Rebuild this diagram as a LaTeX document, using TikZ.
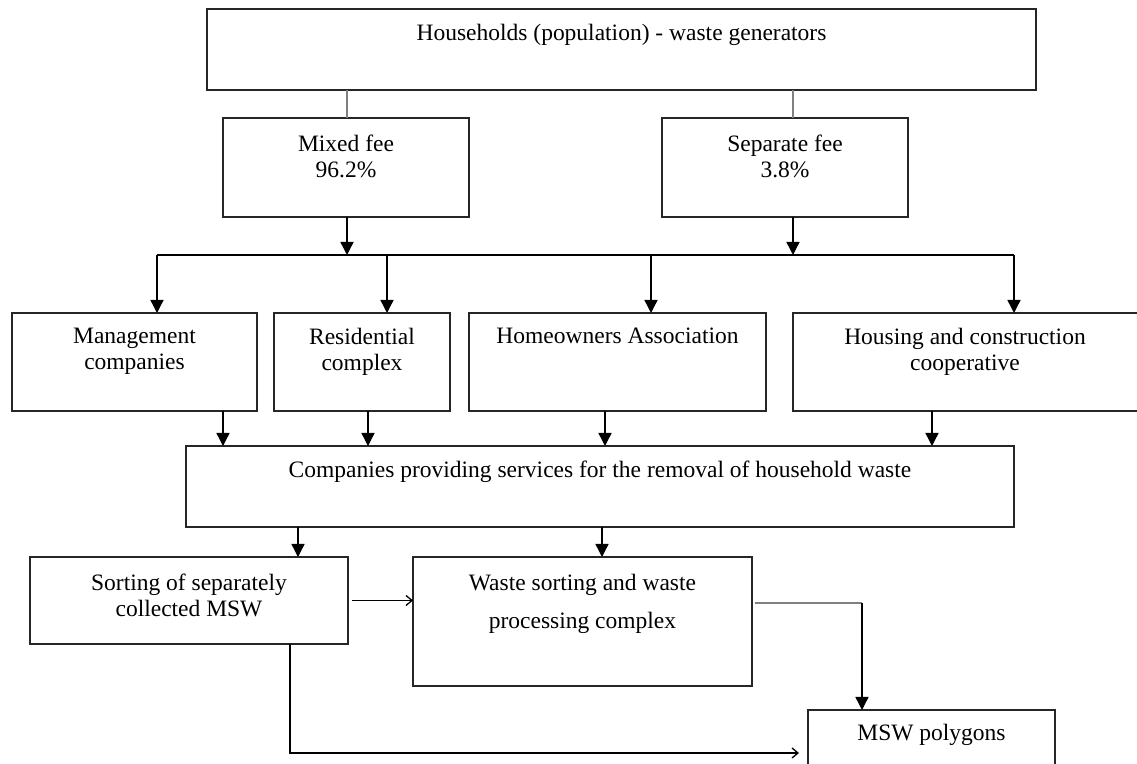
\documentclass[tikz,border=0pt]{standalone}
\usepackage{fontspec}
\setmainfont{Liberation Serif}
\usetikzlibrary{arrows.meta}
\begin{document}
\begin{tikzpicture}[x=0.5pt,y=-0.5pt,
  bx/.style 2 args={draw=black!85, line width=0.75pt, inner sep=0pt, outer sep=0pt,
    minimum width=#1*0.5pt, minimum height=#2*0.5pt},
  txt/.style={anchor=north, inner sep=0pt, align=center, font=\fontsize{11.75}{13}\selectfont},
  arr/.style={draw=black, line width=0.7pt, -{Triangle[width=6.5pt,length=6.5pt]}},
  thinarr/.style={draw=black, line width=0.65pt, -{Straight Barb[length=3pt,width=5pt]}},
  gline/.style={draw=black!50, line width=1pt},
  ln/.style={draw=black, line width=0.7pt}]
\useasboundingbox (0,0) rectangle (1137,764);

% boxes
\node[bx={829}{81}] (hh) at (621.5,49.5) {};
\node[txt] (hht) at (621.5,24) {Households (population) - waste generators};
\node[bx={246}{99}] (mix) at (346,167.5) {};
\node[txt] (mixt) at (346,135) {Mixed fee\\96.2\%};
\node[bx={246}{99}] (sep) at (785,167.5) {};
\node[txt] (sept) at (785,135) {Separate fee\\3.8\%};

\node[bx={245}{98}] (mgmt) at (134.5,362) {};
\node[txt] (mgmtt) at (134.5,328) {Management\\companies};
\node[bx={176}{98}] (res) at (362,362) {};
\node[txt] (rest) at (362,328) {Residential\\complex};
\node[bx={297}{98}] (hoa) at (617.5,362) {};
\node[txt] (hoat) at (617.5,328) {Homeowners Association};
\node[bx={354}{98}] (hcc) at (970,362) {};
\node[txt] (hcct) at (965,328) {Housing and construction\\cooperative};

\node[bx={828}{81}] (comp) at (600,486.5) {};
\node[txt] (compt) at (600,461) {Companies providing services for the removal of household waste};

\node[bx={318}{87}] (sort) at (189,600.5) {};
\node[txt] (sortt) at (189,574) {Sorting of separately\\collected MSW};
\node[bx={339}{129}] (wsp) at (582.5,621.5) {};
\node[txt] (wspt) at (582.5,574) {Waste sorting and waste\\[6pt]processing complex};
\node[bx={247}{70}] (msw) at (931.5,745) {};
\node[txt] (mswt) at (931.5,724) {MSW polygons};

% helper coordinates
\coordinate (xm) at (347,0);
\coordinate (xs) at (793,0);
\coordinate (b1) at (157,255);
\coordinate (b2) at (387,255);
\coordinate (b3) at (651,255);
\coordinate (b4) at (1014,255);
\coordinate (d1) at (223,0);
\coordinate (d2) at (368,0);
\coordinate (d3) at (605,0);
\coordinate (d4) at (932,0);
\coordinate (e1) at (298,0);
\coordinate (e2) at (602,0);
\coordinate (k) at (862,603);
\coordinate (m) at (290,753);

% connectors
\draw[gline] (hh.south -| xm) -- (mix.north -| xm);
\draw[gline] (hh.south -| xs) -- (sep.north -| xs);
\draw[arr] (mix.south -| xm) -- (b1 -| xm);
\draw[arr] (sep.south -| xs) -- (b1 -| xs);
\draw[ln] (b1) -- (b4);
\draw[arr] (b1) -- (mgmt.north -| b1);
\draw[arr] (b2) -- (res.north -| b2);
\draw[arr] (b3) -- (hoa.north -| b3);
\draw[arr] (b4) -- (hcc.north -| b4);

\draw[arr] (mgmt.south -| d1) -- (comp.north -| d1);
\draw[arr] (res.south -| d2) -- (comp.north -| d2);
\draw[arr] (hoa.south -| d3) -- (comp.north -| d3);
\draw[arr] (hcc.south -| d4) -- (comp.north -| d4);

\draw[arr] (comp.south -| e1) -- (sort.north -| e1);
\draw[arr] (comp.south -| e2) -- (wsp.north -| e2);

\draw[thinarr] ([xshift=2pt]sort.east) -- (sort.east -| wsp.west);
\draw[gline] ([xshift=1.5pt]wsp.east |- k) -- (k);
\draw[arr] (k) -- (msw.north -| k);
\draw[thinarr] (sort.south -| m) -- (m) -- ([xshift=-4.5pt]msw.west |- m);
\end{tikzpicture}
\end{document}
